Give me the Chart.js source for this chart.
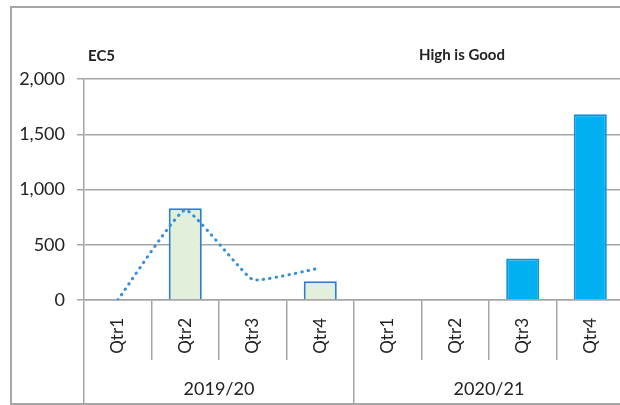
<!DOCTYPE html>
<html>
<head>
<meta charset="utf-8">
<script src="https://cdn.jsdelivr.net/npm/chart.js@4"></script>
<style>
  html, body { margin: 0; padding: 0; overflow: hidden; background: #fff; }
  #wrap { width: 624px; height: 405px; }
</style>
</head>
<body>
<div id="wrap"><canvas id="canvas"></canvas></div>
<script>
const quarters = ["Qtr1", "Qtr2", "Qtr3", "Qtr4", "Qtr1", "Qtr2", "Qtr3", "Qtr4"];
const years = ["2019/20", "2020/21"];
const bars1920 = [null, 830, null, 170, null, null, null, null];
const bars2021 = [null, null, null, null, null, null, 375, 1680];
const line1920 = [0, 815, 185, 290, null, null, null, null];
const yTicks = [0, 500, 1000, 1500, 2000];

const gridColor = "#a6a6a6";
const textColor = "#222";
const fontFamily = "Lato, 'Open Sans', sans-serif";

// outer chart frame
const frame = {
  id: "frame",
  beforeDraw: (chart) => {
    const ctx = chart.ctx;
    ctx.save();
    ctx.strokeStyle = "#a6a6a6";
    ctx.lineWidth = 2;
    ctx.strokeRect(11, 7, 700, 397);
    ctx.restore();
  },
};

// "EC5" and "High is Good" headings
const headings = {
  id: "headings",
  afterDraw: (chart) => {
    const ctx = chart.ctx;
    ctx.save();
    ctx.fillStyle = textColor;
    ctx.font = "bold 15px " + fontFamily;
    ctx.textBaseline = "middle";
    ctx.textAlign = "left";
    ctx.fillText("EC5", 88, 56);
    ctx.textAlign = "center";
    ctx.fillText("High is Good", 462, 55);
    ctx.restore();
  },
};

const data = {
  labels: quarters,
  datasets: [
    {
      type: "line",
      data: line1920,
      borderColor: "#3a8fd8",
      borderWidth: 3,
      borderDash: [0.5, 6],
      borderCapStyle: "round",
      tension: 0.12,
      pointRadius: 0,
      fill: false,
      order: 0,
    },
    {
      type: "bar",
      data: bars1920,
      backgroundColor: "#e2efda",
      borderColor: "#2e80c6",
      borderWidth: 2,
      grouped: false,
      barPercentage: 0.49,
      categoryPercentage: 1,
      order: 1,
    },
    {
      type: "bar",
      data: bars2021,
      backgroundColor: "#00b0f0",
      borderColor: "#1590d6",
      borderWidth: 2,
      grouped: false,
      barPercentage: 0.49,
      categoryPercentage: 1,
      order: 1,
    },
  ],
};

const config = {
  type: "bar",
  data: data,
  options: {
    responsive: true,
    maintainAspectRatio: false,
    animation: false,
    layout: { padding: { top: 79, left: 0, right: 0, bottom: 0 } },
    plugins: { legend: { display: false }, tooltip: { enabled: false } },
    scales: {
      y: {
        min: yTicks[0],
        max: yTicks[yTicks.length - 1],
        ticks: {
          stepSize: yTicks[1] - yTicks[0],
          color: textColor,
          font: { family: fontFamily, size: 18 },
          padding: 12,
        },
        grid: { color: gridColor, lineWidth: 1.5, tickLength: 7 },
        border: { color: gridColor, width: 1.5 },
        afterFit: (scale) => { scale.width = 84; },
      },
      x: {
        type: "category",
        labels: quarters,
        offset: true,
        ticks: {
          minRotation: 90,
          maxRotation: 90,
          autoSkip: false,
          color: textColor,
          font: { family: fontFamily, size: 17 },
          padding: -42,
        },
        grid: { offset: true, drawOnChartArea: false, color: gridColor, lineWidth: 1.5, tickLength: 60 },
        border: { color: gridColor, width: 1.5 },
        afterFit: (scale) => { scale.height = 60; },
      },
      x2: {
        type: "category",
        position: "bottom",
        labels: years,
        offset: true,
        ticks: {
          color: textColor,
          font: { family: fontFamily, size: 18 },
          padding: -26,
        },
        grid: { offset: true, drawOnChartArea: false, color: gridColor, lineWidth: 1.5, tickLength: 44 },
        border: { display: false },
        afterFit: (scale) => { scale.height = 45; },
      },
    },
  },
  plugins: [frame, headings],
};

const canvas = document.getElementById("canvas");
const charts = new Chart(canvas, config);
</script>
</body>
</html>
